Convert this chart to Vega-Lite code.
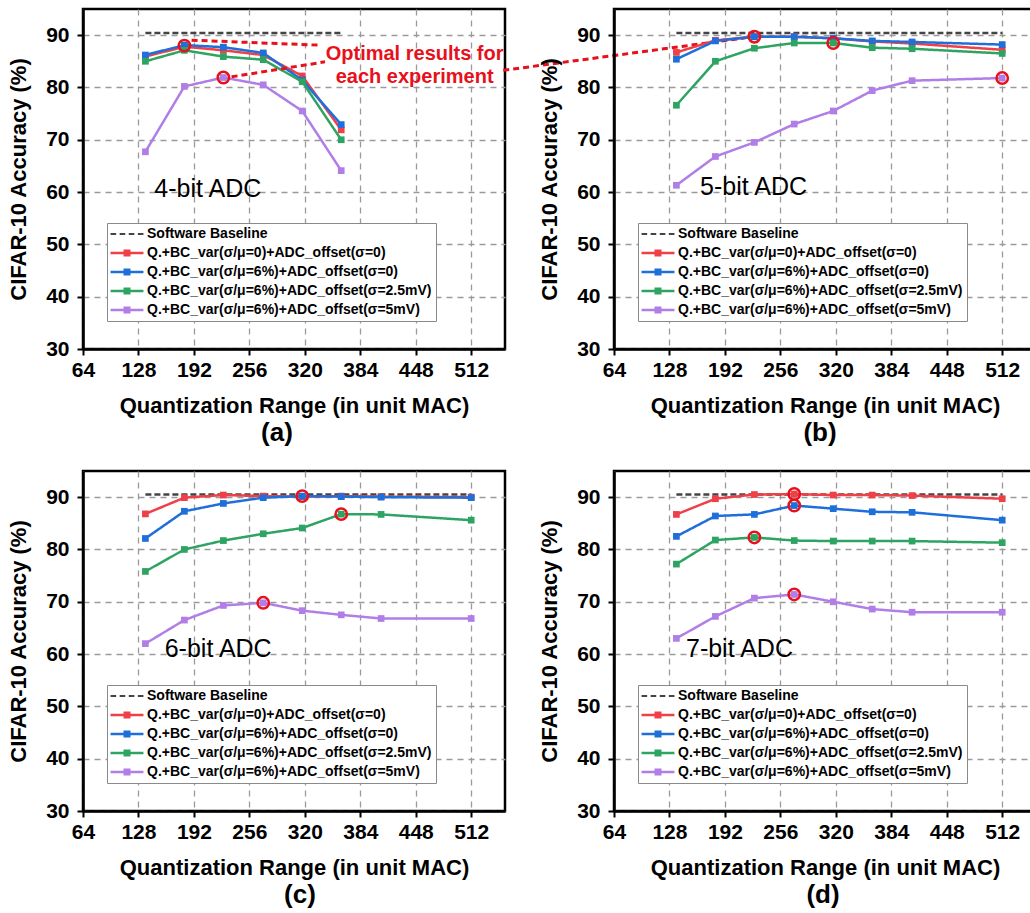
{
 "$schema": "https://vega.github.io/schema/vega-lite/v6.json",
 "background": "white",
 "padding": {"left": 6, "top": 7, "right": 0, "bottom": 0},
 "bounds": "flush",
 "columns": 2,
 "spacing": {"row": 122, "column": 109},
 "resolve": {"scale": {"color": "shared", "strokeDash": "shared"}, "legend": {"color": "independent"}},
 "config": {
  "font": "Liberation Sans",
  "view": {"stroke": "black", "strokeWidth": 2.5},
  "axis": {"labelFont": "Liberation Sans", "labelFontSize": 21, "labelFontWeight": "bold", "labelColor": "black", "titleFont": "Liberation Sans", "titleFontSize": 22, "titleFontWeight": "bold", "titleColor": "black", "domainColor": "black", "domainWidth": 2.5, "tickColor": "black", "tickWidth": 2, "tickSize": 6, "gridColor": "#9a9a9a", "gridDash": [6, 5], "gridWidth": 1.3, "labelPadding": 4},
  "axisX": {"titlePadding": 15},
  "axisY": {"titlePadding": 15, "labelPadding": 8},
  "title": {"font": "Liberation Sans", "fontSize": 26, "fontWeight": "bold", "color": "black", "orient": "bottom", "anchor": "middle", "offset": 4}
 },
 "datasets": {
  "acc": [
   {"panel": "a", "range": 136, "baseline": 90.4, "s1": 85.9, "s2": 86.2, "s3": 85.0, "s4": 67.7},
   {"panel": "a", "range": 181, "s1": 87.8, "s2": 88.1, "s3": 87.1, "s4": 80.2},
   {"panel": "a", "range": 226, "s1": 87.1, "s2": 87.7, "s3": 85.9, "s4": 81.9},
   {"panel": "a", "range": 272, "s1": 86.2, "s2": 86.6, "s3": 85.3, "s4": 80.5},
   {"panel": "a", "range": 317, "s1": 82.2, "s2": 81.4, "s3": 81.1, "s4": 75.5},
   {"panel": "a", "range": 362, "baseline": 90.4, "s1": 71.9, "s2": 72.9, "s3": 70.0, "s4": 64.1},
   {"panel": "b", "range": 136, "baseline": 90.4, "s1": 86.7, "s2": 85.4, "s3": 76.6, "s4": 61.3},
   {"panel": "b", "range": 181, "s1": 89.0, "s2": 88.9, "s3": 85.0, "s4": 66.8},
   {"panel": "b", "range": 226, "s1": 89.7, "s2": 89.7, "s3": 87.5, "s4": 69.5},
   {"panel": "b", "range": 272, "s1": 89.7, "s2": 89.7, "s3": 88.5, "s4": 73.0},
   {"panel": "b", "range": 317, "s1": 89.4, "s2": 89.4, "s3": 88.5, "s4": 75.5},
   {"panel": "b", "range": 362, "s1": 88.8, "s2": 88.9, "s3": 87.6, "s4": 79.4},
   {"panel": "b", "range": 408, "s1": 88.4, "s2": 88.7, "s3": 87.4, "s4": 81.3},
   {"panel": "b", "range": 512, "baseline": 90.4, "s1": 87.2, "s2": 88.2, "s3": 86.5, "s4": 81.8},
   {"panel": "c", "range": 136, "baseline": 90.5, "s1": 86.8, "s2": 82.1, "s3": 75.8, "s4": 62.0},
   {"panel": "c", "range": 181, "s1": 89.9, "s2": 87.3, "s3": 80.0, "s4": 66.5},
   {"panel": "c", "range": 226, "s1": 90.4, "s2": 88.8, "s3": 81.7, "s4": 69.3},
   {"panel": "c", "range": 272, "s1": 90.2, "s2": 89.9, "s3": 83.0, "s4": 69.8},
   {"panel": "c", "range": 317, "s1": 90.1, "s2": 90.2, "s3": 84.1, "s4": 68.3},
   {"panel": "c", "range": 362, "s1": 90.2, "s2": 90.1, "s3": 86.75, "s4": 67.5},
   {"panel": "c", "range": 408, "s1": 90.1, "s2": 90.0, "s3": 86.7, "s4": 66.8},
   {"panel": "c", "range": 512, "baseline": 90.5, "s1": 90.0, "s2": 89.9, "s3": 85.6, "s4": 66.8},
   {"panel": "d", "range": 136, "baseline": 90.5, "s1": 86.7, "s2": 82.5, "s3": 77.2, "s4": 63.0},
   {"panel": "d", "range": 181, "s1": 89.7, "s2": 86.4, "s3": 81.8, "s4": 67.2},
   {"panel": "d", "range": 226, "s1": 90.5, "s2": 86.7, "s3": 82.3, "s4": 70.7},
   {"panel": "d", "range": 272, "s1": 90.6, "s2": 88.4, "s3": 81.7, "s4": 71.4},
   {"panel": "d", "range": 317, "s1": 90.4, "s2": 87.8, "s3": 81.6, "s4": 70.0},
   {"panel": "d", "range": 362, "s1": 90.4, "s2": 87.2, "s3": 81.6, "s4": 68.6},
   {"panel": "d", "range": 408, "s1": 90.3, "s2": 87.1, "s3": 81.6, "s4": 68.0},
   {"panel": "d", "range": 512, "baseline": 90.5, "s1": 89.7, "s2": 85.6, "s3": 81.3, "s4": 68.0}
  ],
  "names": [
   {"key": "baseline", "series": "Software Baseline"},
   {"key": "s1", "series": "Q.+BC_var(σ/μ=0)+ADC_offset(σ=0)"},
   {"key": "s2", "series": "Q.+BC_var(σ/μ=6%)+ADC_offset(σ=0)"},
   {"key": "s3", "series": "Q.+BC_var(σ/μ=6%)+ADC_offset(σ=2.5mV)"},
   {"key": "s4", "series": "Q.+BC_var(σ/μ=6%)+ADC_offset(σ=5mV)"}
  ],
  "optimal": [
   {"panel": "a", "range": 181, "acc": 88.0},
   {"panel": "a", "range": 226, "acc": 81.9},
   {"panel": "b", "range": 226, "acc": 89.7},
   {"panel": "b", "range": 317, "acc": 88.5},
   {"panel": "b", "range": 512, "acc": 81.8},
   {"panel": "c", "range": 317, "acc": 90.2},
   {"panel": "c", "range": 362, "acc": 86.75},
   {"panel": "c", "range": 272, "acc": 69.8},
   {"panel": "d", "range": 272, "acc": 90.6},
   {"panel": "d", "range": 272, "acc": 88.4},
   {"panel": "d", "range": 226, "acc": 82.3},
   {"panel": "d", "range": 272, "acc": 71.4}
  ],
  "callout": [
   {"seg": 1, "range": 189.3, "acc": 89.04},
   {"seg": 1, "range": 335.6, "acc": 88.09},
   {"seg": 2, "range": 235.5, "acc": 82.03},
   {"seg": 2, "range": 343.3, "acc": 84.9},
   {"seg": 3, "range": 549, "acc": 83.27},
   {"seg": 3, "range": 828.6, "acc": 89.48}
  ]
 },
 "concat": [
  {
   "width": 422, "height": 340,
   "title": {"text": "(a)", "dx": -17},
   "layer": [
    {
     "data": {"name": "acc"},
     "transform": [{"filter": "datum.panel === 'a'"}, {"fold": ["baseline", "s1", "s2", "s3", "s4"], "as": ["key", "acc"]}, {"filter": "isValid(datum.acc)"}, {"lookup": "key", "from": {"data": {"name": "names"}, "key": "key", "fields": ["series"]}}],
     "mark": {"type": "line", "strokeWidth": 2.5},
     "encoding": {
      "x": {"field": "range", "type": "quantitative", "scale": {"domain": [64, 551], "nice": false, "zero": false}, "axis": {"title": "Quantization Range (in unit MAC)", "values": [64, 128, 192, 256, 320, 384, 448, 512], "labelFlush": false, "labelOverlap": false}},
      "y": {"field": "acc", "type": "quantitative", "scale": {"domain": [30, 95], "nice": false, "zero": false}, "axis": {"title": "CIFAR-10 Accuracy (%)", "values": [30, 40, 50, 60, 70, 80, 90]}},
      "color": {"field": "series", "type": "nominal", "scale": {"domain": ["Software Baseline", "Q.+BC_var(σ/μ=0)+ADC_offset(σ=0)", "Q.+BC_var(σ/μ=6%)+ADC_offset(σ=0)", "Q.+BC_var(σ/μ=6%)+ADC_offset(σ=2.5mV)", "Q.+BC_var(σ/μ=6%)+ADC_offset(σ=5mV)"], "range": ["#444444", "#ef4048", "#1f6fdb", "#2ea462", "#b07ee6"]},
       "legend": {"orient": "none", "legendX": 24, "legendY": 214, "title": null, "fillColor": "white", "strokeColor": "#8a8a8a", "padding": 4, "rowPadding": 5, "labelFont": "Liberation Sans", "labelFontSize": 14, "labelFontWeight": "bold", "labelColor": "black", "labelLimit": 400, "symbolSize": 49, "symbolOffset": 9, "labelOffset": 13, "symbolType": "square",
        "encode": {"symbols": {"update": {"shape": {"signal": "datum.value === 'Software Baseline' ? 'M-4.7,-0.29H-3.1V0.29H-4.7Z M-2.1,-0.29H-0.5V0.29H-2.1Z M0.5,-0.29H2.1V0.29H0.5Z M3.1,-0.29H4.7V0.29H3.1Z' : 'M-4.7,-0.36H4.7V0.36H-4.7Z M-1,-1H1V1H-1Z'"}, "fill": {"scale": "color", "field": "value"}, "stroke": {"value": "transparent"}, "strokeWidth": {"value": 0}, "opacity": {"value": 1}}}}}},
      "strokeDash": {"field": "series", "type": "nominal", "scale": {"domain": ["Software Baseline", "Q.+BC_var(σ/μ=0)+ADC_offset(σ=0)", "Q.+BC_var(σ/μ=6%)+ADC_offset(σ=0)", "Q.+BC_var(σ/μ=6%)+ADC_offset(σ=2.5mV)", "Q.+BC_var(σ/μ=6%)+ADC_offset(σ=5mV)"], "range": [[6, 3], [1, 0], [1, 0], [1, 0], [1, 0]]}, "legend": null}
     }
    },
    {
     "data": {"name": "acc"},
     "transform": [{"filter": "datum.panel === 'a'"}, {"fold": ["s1", "s2", "s3", "s4"], "as": ["key", "acc"]}, {"filter": "isValid(datum.acc)"}, {"lookup": "key", "from": {"data": {"name": "names"}, "key": "key", "fields": ["series"]}}],
     "mark": {"type": "square", "size": 45, "filled": true, "opacity": 1},
     "encoding": {"x": {"field": "range", "type": "quantitative"}, "y": {"field": "acc", "type": "quantitative"}, "color": {"field": "series", "type": "nominal", "legend": null}}
    },
    {
     "data": {"name": "optimal"},
     "transform": [{"filter": "datum.panel === 'a'"}],
     "mark": {"type": "point", "shape": "circle", "size": 130, "filled": false, "stroke": "#e8101a", "strokeWidth": 2.5, "opacity": 1},
     "encoding": {"x": {"field": "range", "type": "quantitative"}, "y": {"field": "acc", "type": "quantitative"}}
    },
    {
     "data": {"name": "callout"},
     "mark": {"type": "line", "stroke": "#e8101a", "strokeWidth": 3, "strokeDash": [6, 4], "clip": false},
     "encoding": {"x": {"field": "range", "type": "quantitative"}, "y": {"field": "acc", "type": "quantitative"}, "detail": {"field": "seg", "type": "nominal"}}
    },
    {
     "data": {"values": [{}]},
     "mark": {"type": "text", "text": ["Optimal results for", "each experiment"], "font": "Liberation Sans", "fontSize": 20, "fontWeight": "bold", "fill": "#e8101a", "lineHeight": 23.4, "align": "center", "baseline": "middle"},
     "encoding": {"x": {"datum": 446.7}, "y": {"datum": 86.4}}
    },
    {
     "data": {"values": [{}]},
     "mark": {"type": "text", "text": "4-bit ADC", "font": "Liberation Sans", "fontSize": 25, "fill": "black", "align": "center", "baseline": "middle"},
     "encoding": {"x": {"datum": 208}, "y": {"datum": 60.6}}
    }
   ]
  },
  {
   "width": 422, "height": 340,
   "title": {"text": "(b)", "dx": -5},
   "layer": [
    {
     "data": {"name": "acc"},
     "transform": [{"filter": "datum.panel === 'b'"}, {"fold": ["baseline", "s1", "s2", "s3", "s4"], "as": ["key", "acc"]}, {"filter": "isValid(datum.acc)"}, {"lookup": "key", "from": {"data": {"name": "names"}, "key": "key", "fields": ["series"]}}],
     "mark": {"type": "line", "strokeWidth": 2.5},
     "encoding": {
      "x": {"field": "range", "type": "quantitative", "scale": {"domain": [64, 551], "nice": false, "zero": false}, "axis": {"title": "Quantization Range (in unit MAC)", "values": [64, 128, 192, 256, 320, 384, 448, 512], "labelFlush": false, "labelOverlap": false}},
      "y": {"field": "acc", "type": "quantitative", "scale": {"domain": [30, 95], "nice": false, "zero": false}, "axis": {"title": "CIFAR-10 Accuracy (%)", "values": [30, 40, 50, 60, 70, 80, 90]}},
      "color": {"field": "series", "type": "nominal",
       "legend": {"orient": "none", "legendX": 24, "legendY": 214, "title": null, "fillColor": "white", "strokeColor": "#8a8a8a", "padding": 4, "rowPadding": 5, "labelFont": "Liberation Sans", "labelFontSize": 14, "labelFontWeight": "bold", "labelColor": "black", "labelLimit": 400, "symbolSize": 49, "symbolOffset": 9, "labelOffset": 13, "symbolType": "square",
        "encode": {"symbols": {"update": {"shape": {"signal": "datum.value === 'Software Baseline' ? 'M-4.7,-0.29H-3.1V0.29H-4.7Z M-2.1,-0.29H-0.5V0.29H-2.1Z M0.5,-0.29H2.1V0.29H0.5Z M3.1,-0.29H4.7V0.29H3.1Z' : 'M-4.7,-0.36H4.7V0.36H-4.7Z M-1,-1H1V1H-1Z'"}, "fill": {"scale": "color", "field": "value"}, "stroke": {"value": "transparent"}, "strokeWidth": {"value": 0}, "opacity": {"value": 1}}}}}},
      "strokeDash": {"field": "series", "type": "nominal", "legend": null}
     }
    },
    {
     "data": {"name": "acc"},
     "transform": [{"filter": "datum.panel === 'b'"}, {"fold": ["s1", "s2", "s3", "s4"], "as": ["key", "acc"]}, {"filter": "isValid(datum.acc)"}, {"lookup": "key", "from": {"data": {"name": "names"}, "key": "key", "fields": ["series"]}}],
     "mark": {"type": "square", "size": 45, "filled": true, "opacity": 1},
     "encoding": {"x": {"field": "range", "type": "quantitative"}, "y": {"field": "acc", "type": "quantitative"}, "color": {"field": "series", "type": "nominal", "legend": null}}
    },
    {
     "data": {"name": "optimal"},
     "transform": [{"filter": "datum.panel === 'b'"}],
     "mark": {"type": "point", "shape": "circle", "size": 130, "filled": false, "stroke": "#e8101a", "strokeWidth": 2.5, "opacity": 1},
     "encoding": {"x": {"field": "range", "type": "quantitative"}, "y": {"field": "acc", "type": "quantitative"}}
    },
    {
     "data": {"values": [{}]},
     "mark": {"type": "text", "text": "5-bit ADC", "font": "Liberation Sans", "fontSize": 25, "fill": "black", "align": "center", "baseline": "middle"},
     "encoding": {"x": {"datum": 225}, "y": {"datum": 60.9}}
    }
   ]
  },
  {
   "width": 422, "height": 340,
   "title": {"text": "(c)", "dx": 6},
   "layer": [
    {
     "data": {"name": "acc"},
     "transform": [{"filter": "datum.panel === 'c'"}, {"fold": ["baseline", "s1", "s2", "s3", "s4"], "as": ["key", "acc"]}, {"filter": "isValid(datum.acc)"}, {"lookup": "key", "from": {"data": {"name": "names"}, "key": "key", "fields": ["series"]}}],
     "mark": {"type": "line", "strokeWidth": 2.5},
     "encoding": {
      "x": {"field": "range", "type": "quantitative", "scale": {"domain": [64, 551], "nice": false, "zero": false}, "axis": {"title": "Quantization Range (in unit MAC)", "values": [64, 128, 192, 256, 320, 384, 448, 512], "labelFlush": false, "labelOverlap": false}},
      "y": {"field": "acc", "type": "quantitative", "scale": {"domain": [30, 95], "nice": false, "zero": false}, "axis": {"title": "CIFAR-10 Accuracy (%)", "values": [30, 40, 50, 60, 70, 80, 90]}},
      "color": {"field": "series", "type": "nominal",
       "legend": {"orient": "none", "legendX": 24, "legendY": 214, "title": null, "fillColor": "white", "strokeColor": "#8a8a8a", "padding": 4, "rowPadding": 5, "labelFont": "Liberation Sans", "labelFontSize": 14, "labelFontWeight": "bold", "labelColor": "black", "labelLimit": 400, "symbolSize": 49, "symbolOffset": 9, "labelOffset": 13, "symbolType": "square",
        "encode": {"symbols": {"update": {"shape": {"signal": "datum.value === 'Software Baseline' ? 'M-4.7,-0.29H-3.1V0.29H-4.7Z M-2.1,-0.29H-0.5V0.29H-2.1Z M0.5,-0.29H2.1V0.29H0.5Z M3.1,-0.29H4.7V0.29H3.1Z' : 'M-4.7,-0.36H4.7V0.36H-4.7Z M-1,-1H1V1H-1Z'"}, "fill": {"scale": "color", "field": "value"}, "stroke": {"value": "transparent"}, "strokeWidth": {"value": 0}, "opacity": {"value": 1}}}}}},
      "strokeDash": {"field": "series", "type": "nominal", "legend": null}
     }
    },
    {
     "data": {"name": "acc"},
     "transform": [{"filter": "datum.panel === 'c'"}, {"fold": ["s1", "s2", "s3", "s4"], "as": ["key", "acc"]}, {"filter": "isValid(datum.acc)"}, {"lookup": "key", "from": {"data": {"name": "names"}, "key": "key", "fields": ["series"]}}],
     "mark": {"type": "square", "size": 45, "filled": true, "opacity": 1},
     "encoding": {"x": {"field": "range", "type": "quantitative"}, "y": {"field": "acc", "type": "quantitative"}, "color": {"field": "series", "type": "nominal", "legend": null}}
    },
    {
     "data": {"name": "optimal"},
     "transform": [{"filter": "datum.panel === 'c'"}],
     "mark": {"type": "point", "shape": "circle", "size": 130, "filled": false, "stroke": "#e8101a", "strokeWidth": 2.5, "opacity": 1},
     "encoding": {"x": {"field": "range", "type": "quantitative"}, "y": {"field": "acc", "type": "quantitative"}}
    },
    {
     "data": {"values": [{}]},
     "mark": {"type": "text", "text": "6-bit ADC", "font": "Liberation Sans", "fontSize": 25, "fill": "black", "align": "center", "baseline": "middle"},
     "encoding": {"x": {"datum": 220}, "y": {"datum": 60.9}}
    }
   ]
  },
  {
   "width": 422, "height": 340,
   "title": {"text": "(d)", "dx": -2},
   "layer": [
    {
     "data": {"name": "acc"},
     "transform": [{"filter": "datum.panel === 'd'"}, {"fold": ["baseline", "s1", "s2", "s3", "s4"], "as": ["key", "acc"]}, {"filter": "isValid(datum.acc)"}, {"lookup": "key", "from": {"data": {"name": "names"}, "key": "key", "fields": ["series"]}}],
     "mark": {"type": "line", "strokeWidth": 2.5},
     "encoding": {
      "x": {"field": "range", "type": "quantitative", "scale": {"domain": [64, 551], "nice": false, "zero": false}, "axis": {"title": "Quantization Range (in unit MAC)", "values": [64, 128, 192, 256, 320, 384, 448, 512], "labelFlush": false, "labelOverlap": false}},
      "y": {"field": "acc", "type": "quantitative", "scale": {"domain": [30, 95], "nice": false, "zero": false}, "axis": {"title": "CIFAR-10 Accuracy (%)", "values": [30, 40, 50, 60, 70, 80, 90]}},
      "color": {"field": "series", "type": "nominal",
       "legend": {"orient": "none", "legendX": 24, "legendY": 214, "title": null, "fillColor": "white", "strokeColor": "#8a8a8a", "padding": 4, "rowPadding": 5, "labelFont": "Liberation Sans", "labelFontSize": 14, "labelFontWeight": "bold", "labelColor": "black", "labelLimit": 400, "symbolSize": 49, "symbolOffset": 9, "labelOffset": 13, "symbolType": "square",
        "encode": {"symbols": {"update": {"shape": {"signal": "datum.value === 'Software Baseline' ? 'M-4.7,-0.29H-3.1V0.29H-4.7Z M-2.1,-0.29H-0.5V0.29H-2.1Z M0.5,-0.29H2.1V0.29H0.5Z M3.1,-0.29H4.7V0.29H3.1Z' : 'M-4.7,-0.36H4.7V0.36H-4.7Z M-1,-1H1V1H-1Z'"}, "fill": {"scale": "color", "field": "value"}, "stroke": {"value": "transparent"}, "strokeWidth": {"value": 0}, "opacity": {"value": 1}}}}}},
      "strokeDash": {"field": "series", "type": "nominal", "legend": null}
     }
    },
    {
     "data": {"name": "acc"},
     "transform": [{"filter": "datum.panel === 'd'"}, {"fold": ["s1", "s2", "s3", "s4"], "as": ["key", "acc"]}, {"filter": "isValid(datum.acc)"}, {"lookup": "key", "from": {"data": {"name": "names"}, "key": "key", "fields": ["series"]}}],
     "mark": {"type": "square", "size": 45, "filled": true, "opacity": 1},
     "encoding": {"x": {"field": "range", "type": "quantitative"}, "y": {"field": "acc", "type": "quantitative"}, "color": {"field": "series", "type": "nominal", "legend": null}}
    },
    {
     "data": {"name": "optimal"},
     "transform": [{"filter": "datum.panel === 'd'"}],
     "mark": {"type": "point", "shape": "circle", "size": 130, "filled": false, "stroke": "#e8101a", "strokeWidth": 2.5, "opacity": 1},
     "encoding": {"x": {"field": "range", "type": "quantitative"}, "y": {"field": "acc", "type": "quantitative"}}
    },
    {
     "data": {"values": [{}]},
     "mark": {"type": "text", "text": "7-bit ADC", "font": "Liberation Sans", "fontSize": 25, "fill": "black", "align": "center", "baseline": "middle"},
     "encoding": {"x": {"datum": 208.8}, "y": {"datum": 60.9}}
    }
   ]
  }
 ]
}
